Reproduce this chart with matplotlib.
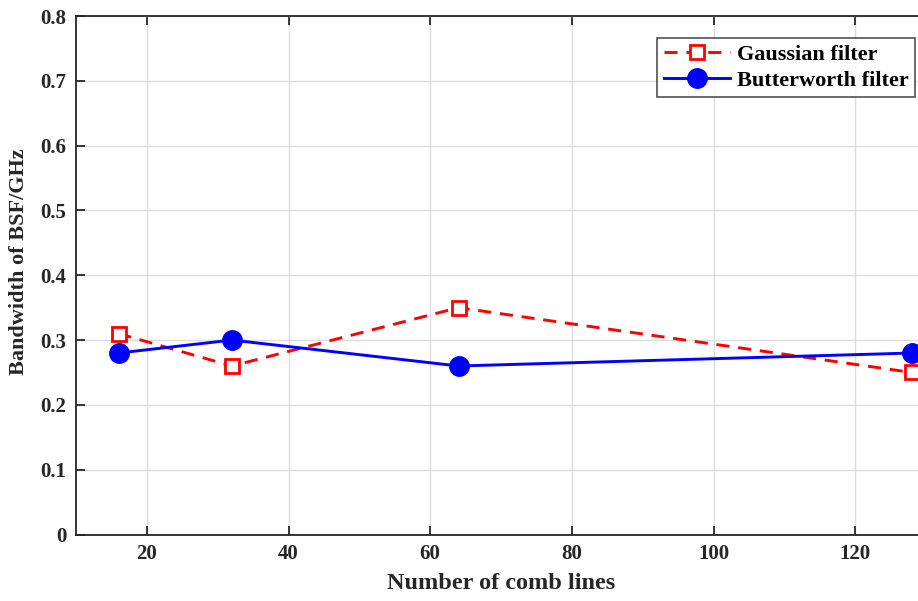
import matplotlib
matplotlib.use("Agg")
import matplotlib.pyplot as plt

comb_lines = [16, 32, 64, 128]
gaussian = [0.31, 0.26, 0.35, 0.25]
butterworth = [0.28, 0.30, 0.26, 0.28]
xticks = [20, 40, 60, 80, 100, 120]
yticks = [0, 0.1, 0.2, 0.3, 0.4, 0.5, 0.6, 0.7, 0.8]

plt.rcParams['font.family'] = ['Liberation Serif', 'DejaVu Serif']
plt.rcParams['font.weight'] = 'bold'

W, H = 918, 601
fig = plt.figure(figsize=(W / 100, H / 100), dpi=100)
x0, x1 = 76, 926
y0, y1 = 534.5, 16
ax = fig.add_axes([x0 / W, 1 - y0 / H, (x1 - x0) / W, (y0 - y1) / H])

ax.plot(comb_lines, gaussian, color='red', linestyle=(0, (4.5, 3)), linewidth=2.1,
        marker='s', markersize=10, markerfacecolor='white', markeredgecolor='red',
        markeredgewidth=2, label='Gaussian filter', clip_on=False, zorder=3)
ax.plot(comb_lines, butterworth, color='blue', linestyle='-', linewidth=2.1,
        marker='o', markersize=14, markerfacecolor='blue', markeredgecolor='blue',
        label='Butterworth filter', clip_on=False, zorder=4)

ax.set_xlim(10, 130)
ax.set_ylim(0, 0.8)
ax.set_xticks(xticks)
ax.set_yticks(yticks)
ax.set_yticklabels(['0' if v == 0 else f'{v:.1f}' for v in yticks])
ax.grid(True, color='#dcdcdc', linewidth=1)
ax.set_axisbelow(True)
for s in ax.spines.values():
    s.set_color('#262626')
    s.set_linewidth(1.3)
ax.tick_params(direction='in', length=6.5, width=1.3, colors='#262626',
               labelsize=15, top=True, right=False, pad=7)
for lab in ax.get_xticklabels() + ax.get_yticklabels():
    lab.set_fontweight('bold')

ax.set_xlabel('Number of comb lines', fontsize=17.5, fontweight='bold', color='#262626', labelpad=6)
ax.set_ylabel('Bandwidth of BSF/GHz', fontsize=16, fontweight='bold', color='#262626')
ax.yaxis.set_label_coords(-(76 - 29) / (x1 - x0), (y0 - 261.5) / (y0 - y1))

leg = ax.legend(loc='upper right', bbox_to_anchor=((915 - x0) / (x1 - x0), 1 - (38 - y1) / (y0 - y1)),
                fontsize=16, frameon=True, fancybox=False, edgecolor='#262626',
                borderpad=0.28, handlelength=3.0, labelspacing=0.25, handletextpad=0.3,
                borderaxespad=0)
leg.get_frame().set_linewidth(1.2)
for t in leg.get_texts():
    t.set_fontweight('bold')

fig.savefig('out.png', dpi=100)
